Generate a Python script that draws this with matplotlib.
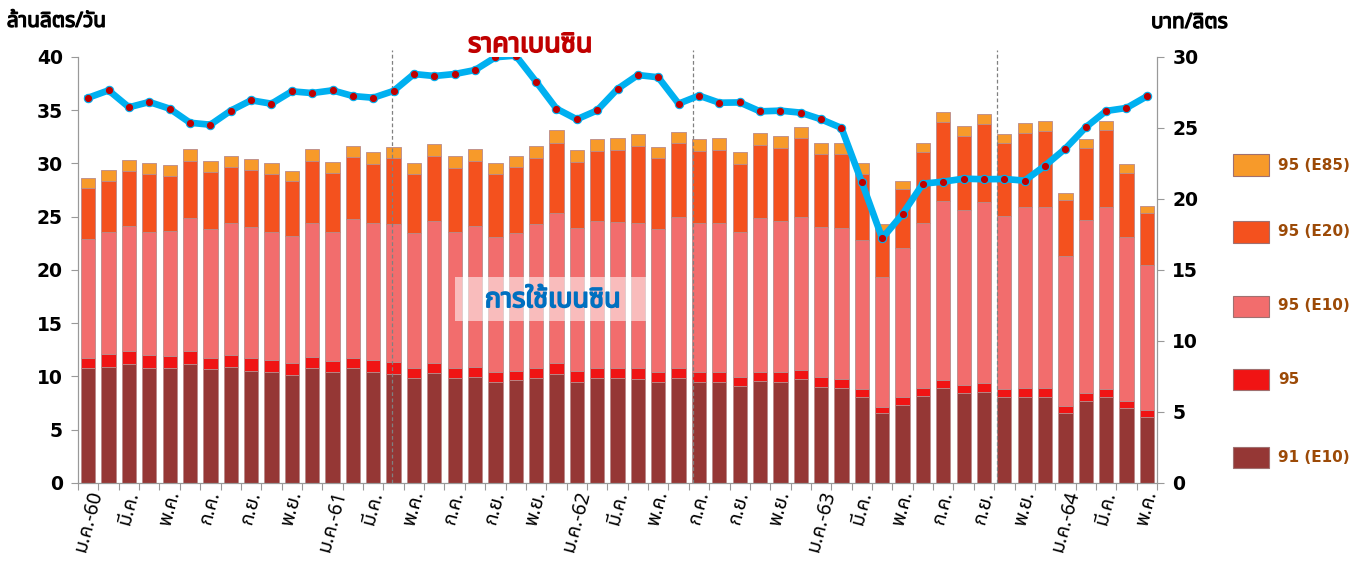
import matplotlib
matplotlib.use('Agg')
import matplotlib.pyplot as plt
from matplotlib import font_manager
from matplotlib.patches import Rectangle
import matplotlib.patheffects as pe
import numpy as np

# months Jan 2017 (ม.ค.-60) .. May 2021 (พ.ค.-64)
month_names = ['ม.ค.', 'ก.พ.', 'มี.ค.', 'เม.ย.', 'พ.ค.', 'มิ.ย.',
               'ก.ค.', 'ส.ค.', 'ก.ย.', 'ต.ค.', 'พ.ย.', 'ธ.ค.']
years = ['60', '61', '62', '63', '64']

series_names = ['91 (E10)', '95', '95 (E10)', '95 (E20)', '95 (E85)']
series_colors = ['#953735', '#F01414', '#F26D6D', '#F4511E', '#F79A2A']

g91_e10 = [10.77, 10.92, 11.14, 10.83, 10.83, 11.14, 10.67, 10.86, 10.52, 10.39, 10.14, 10.77,
           10.39, 10.77, 10.39, 10.20, 9.83, 10.30, 9.83, 9.98, 9.45, 9.67, 9.89, 10.24,
           9.51, 9.83, 9.83, 9.73, 9.51, 9.83, 9.51, 9.51, 9.11, 9.57, 9.51, 9.73,
           9.05, 8.89, 8.11, 6.54, 7.32, 8.20, 8.89, 8.42, 8.58, 8.11, 8.11, 8.11,
           6.60, 7.70, 8.11, 7.07, 6.23]
g95 = [1.00, 1.18, 1.25, 1.17, 1.09, 1.25, 1.10, 1.14, 1.18, 1.16, 1.16, 1.09,
       1.07, 1.00, 1.16, 1.13, 0.94, 1.00, 0.94, 0.94, 1.00, 0.88, 0.94, 1.00,
       1.04, 1.00, 0.94, 1.04, 0.94, 0.94, 0.94, 0.94, 0.87, 0.88, 0.89, 0.88,
       0.93, 0.88, 0.72, 0.63, 0.79, 0.69, 0.78, 0.78, 0.84, 0.72, 0.84, 0.84,
       0.66, 0.72, 0.69, 0.63, 0.62]
g95_e10 = [11.11, 11.43, 11.74, 11.60, 11.74, 12.51, 12.08, 12.38, 12.30, 12.05, 11.90, 12.58,
           12.14, 13.02, 12.83, 12.96, 12.67, 13.33, 12.83, 13.24, 12.62, 12.95, 13.49, 14.08,
           13.36, 13.80, 13.77, 13.67, 13.37, 14.23, 13.99, 13.99, 13.55, 14.40, 14.20, 14.39,
           14.02, 14.13, 13.99, 12.20, 13.92, 15.55, 16.84, 16.43, 16.93, 16.27, 16.93, 17.00,
           14.05, 16.27, 17.08, 15.37, 13.62]
g95_e20 = [4.79, 4.86, 5.20, 5.40, 5.20, 5.36, 5.38, 5.32, 5.42, 5.40, 5.13, 5.82,
           5.50, 5.78, 5.57, 6.19, 5.56, 6.10, 6.00, 6.10, 5.91, 6.14, 6.22, 6.63,
           6.26, 6.54, 6.72, 7.20, 6.66, 6.89, 6.76, 6.82, 6.42, 6.88, 6.88, 7.36,
           6.90, 7.00, 6.18, 4.43, 5.56, 6.62, 7.36, 6.99, 7.37, 6.80, 7.02, 7.13,
           5.26, 6.73, 7.27, 6.01, 4.85]
g95_e85 = [1.0, 1.0, 1.0, 1.0, 1.0, 1.1, 1.0, 1.0, 1.0, 1.0, 1.0, 1.1,
           1.0, 1.1, 1.1, 1.1, 1.0, 1.1, 1.1, 1.1, 1.1, 1.1, 1.1, 1.2,
           1.1, 1.1, 1.1, 1.1, 1.1, 1.1, 1.1, 1.1, 1.1, 1.1, 1.1, 1.1,
           1.0, 1.0, 1.0, 0.5, 0.8, 0.9, 1.0, 0.9, 0.9, 0.87, 0.93, 0.91,
           0.69, 0.85, 0.87, 0.84, 0.68]

# baht/litre
price = [27.13, 27.65, 26.46, 26.83, 26.36, 25.37, 25.23, 26.22, 26.95, 26.71, 27.58, 27.46,
         27.65, 27.25, 27.13, 27.61, 28.80, 28.66, 28.80, 29.08, 29.98, 30.10, 28.26, 26.36,
         25.61, 26.24, 27.75, 28.73, 28.57, 26.71, 27.28, 26.78, 26.80, 26.17, 26.22, 26.08,
         25.61, 25.00, 21.18, 17.23, 18.94, 21.08, 21.22, 21.43, 21.39, 21.41, 21.29, 22.35,
         23.55, 25.05, 26.20, 26.41, 27.23]

# dashed markers (position in month index)
event_pos = [14.92, 29.71, 44.64]


def find_thai_font():
    preferred = ['Tahoma', 'Noto Sans Thai', 'Noto Sans Thai UI', 'Leelawadee UI',
                 'Loma', 'Garuda', 'Kinnari', 'Norasi', 'Sarabun', 'Noto Serif Thai',
                 'Noto Looped Thai']
    names = {f.name for f in font_manager.fontManager.ttflist}
    for p in preferred:
        if p in names:
            return p
    try:
        from fontTools.ttLib import TTFont
        for f in font_manager.fontManager.ttflist:
            try:
                cmap = TTFont(f.fname, fontNumber=0, lazy=True).getBestCmap()
                if cmap and 0x0E01 in cmap:
                    return f.name
            except Exception:
                pass
    except ImportError:
        pass
    return 'DejaVu Sans'


thai = find_thai_font()
fam = [thai, 'DejaVu Sans']
plt.rcParams['font.family'] = fam


def fat(color, w=0.9):
    # fake bold for the thai face
    return [pe.withStroke(linewidth=w, foreground=color)]


n = len(price)
x = np.arange(n)
labels = []
for i in range(n):
    m = i % 12
    if i % 2:
        labels.append('')
    elif m == 0:
        labels.append(month_names[m] + '-' + years[i // 12])
    else:
        labels.append(month_names[m])

fig = plt.figure(figsize=(13.67, 5.62), dpi=100)
ax = fig.add_axes([0.0571, 0.1406, 0.7893, 0.758])
ax2 = ax.twinx()

bottom = np.zeros(n)
for vals, col in zip([g91_e10, g95, g95_e10, g95_e20, g95_e85], series_colors):
    ax.bar(x, vals, 0.7, bottom=bottom, color=col, edgecolor='#B98A8A', linewidth=0.6, zorder=2)
    bottom += np.array(vals)

ax.set_xlim(-0.5, n - 0.5)
ax.set_ylim(0, 40)
ax2.set_ylim(0, 30)
ax.set_yticks(np.arange(0, 41, 5))
ax2.set_yticks(np.arange(0, 31, 5))

ax.set_xticks(np.arange(-0.5, n, 1))
ax.set_xticklabels([])
ax.set_xticks(x, minor=True)
ax.set_xticklabels(labels, minor=True, rotation=75, ha='center', va='top', fontsize=14)
ax.tick_params(axis='x', which='major', length=5, color='#999999', direction='out')
ax.tick_params(axis='x', which='minor', length=0, pad=4)

for a in (ax, ax2):
    a.spines['top'].set_visible(False)
    for s in ('left', 'right', 'bottom'):
        a.spines[s].set_color('#999999')
    a.tick_params(axis='y', length=5, color='#999999', labelsize=13.5, pad=6)
    for t in a.get_yticklabels():
        t.set_fontweight('bold')
        t.set_family('DejaVu Sans')

ax2.plot(x, price, color='#00B0F0', lw=4.8, zorder=5, solid_joinstyle='round',
         marker='o', ms=6, mfc='#C00000', mec='#00B0F0', mew=0.8)
ax.set_zorder(ax2.get_zorder() - 1)
ax.patch.set_visible(False)

for p in event_pos:
    ax.axvline(p, ymin=0, ymax=1.016, color='#808080', ls=(0, (3, 2)), lw=0.9,
               clip_on=False, zorder=3)

fig.text(0.005, 0.962, 'ล้านลิตร/วัน', fontsize=15, ha='left', va='center',
         path_effects=fat('black'))
fig.text(0.842, 0.96, 'บาท/ลิตร', fontsize=15, ha='left', va='center',
         path_effects=fat('black'))
fig.text(0.388, 0.92, 'ราคาเบนซิน', fontsize=19.5, color='#C00000',
         ha='center', va='center', path_effects=fat('#C00000', 1.2))

# translucent box behind the usage label
fig.add_artist(Rectangle((455 / 1367.0, 1 - 321 / 562.0), 192 / 1367.0, 44 / 562.0,
                         transform=fig.transFigure, fc='white', ec='none', alpha=0.55,
                         zorder=6))
t = fig.text(0.4045, 0.466, 'การใช้เบนซิน', fontsize=19.5,
             color='#0070C0', ha='center', va='center',
             path_effects=fat('#0070C0', 1.2))
t.set_zorder(7)

# legend on the right
leg_y = [457, 379, 306, 232, 165]
for name, col, yp in zip(series_names, series_colors, leg_y):
    yf = 1 - yp / 562.0
    fig.add_artist(Rectangle((1233 / 1367.0, yf - 10.5 / 562.0), 36 / 1367.0, 21 / 562.0,
                             transform=fig.transFigure, fc=col, ec='#A07070', lw=0.8))
    fig.text(1278 / 1367.0, yf, name, fontsize=11, fontweight='bold', color='#9C4A07',
             family='DejaVu Sans', ha='left', va='center')

fig.savefig('out.png', dpi=100)
